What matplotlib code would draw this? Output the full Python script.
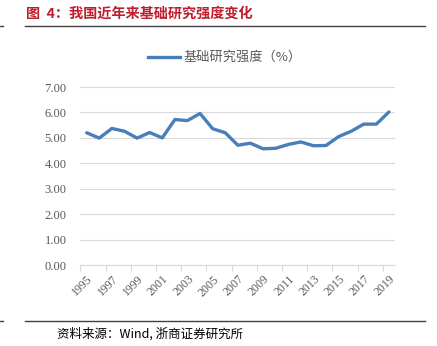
import matplotlib
matplotlib.use("Agg")
import matplotlib.pyplot as plt
from matplotlib.lines import Line2D

years = [str(y) for y in range(1995, 2020)]
values = [5.20, 4.99, 5.37, 5.26, 4.99, 5.21, 5.00, 5.72, 5.68, 5.96,
          5.36, 5.20, 4.71, 4.79, 4.57, 4.59, 4.74, 4.84, 4.69, 4.70,
          5.05, 5.26, 5.54, 5.54, 6.02]
yticks = [0, 1, 2, 3, 4, 5, 6, 7]
ytick_labels = ["0.00", "1.00", "2.00", "3.00", "4.00", "5.00", "6.00", "7.00"]
title = "图  4：我国近年来基础研究强度变化"
series_name = "基础研究强度（%）"
source = "资料来源：Wind, 浙商证券研究所"

cjk = ["Noto Sans CJK SC", "DejaVu Sans"]
serif = ["Liberation Serif", "DejaVu Serif"]

W, H = 437, 346
fig = plt.figure(figsize=(W / 100, H / 100), dpi=100)
ax = fig.add_axes([80.4 / W, 1 - 265 / H, (395.3 - 80.4) / W, (265 - 87) / H])

x = list(range(len(years)))
ax.plot(x, values, color="#4A7EBB", lw=2.4, solid_capstyle="round",
        solid_joinstyle="round", zorder=3)

ax.set_xlim(-0.5, len(years) - 0.5)
ax.set_ylim(0, 7)
ax.set_yticks(yticks)
ax.set_yticklabels(ytick_labels, fontfamily=serif, fontsize=9, color="#595959")
ax.grid(axis="y", color="#D9D9D9", lw=0.8)
ax.set_axisbelow(True)
ax.tick_params(axis="y", length=0, pad=10)

ax.set_xticks(x[::2])
ax.set_xticklabels(years[::2], rotation=45, ha="right", rotation_mode="anchor",
                   fontfamily=serif, fontsize=8.5, color="#595959")
ax.set_xticks([i - 0.5 for i in range(0, len(years) + 1, 2)], minor=True)
ax.tick_params(axis="x", which="major", length=0, pad=6)
ax.tick_params(axis="x", which="minor", length=4, color="#D9D9D9", width=0.8)

for s in ["top", "right", "left"]:
    ax.spines[s].set_visible(False)
ax.spines["bottom"].set_color("#D9D9D9")
ax.spines["bottom"].set_linewidth(0.8)

# legend
fig.lines.append(Line2D([148 / W, 180 / W], [1 - 57 / H, 1 - 57 / H],
                        color="#4A7EBB", lw=2.4, transform=fig.transFigure))
fig.text(184 / W, 1 - 57 / H, series_name, fontfamily=cjk, fontsize=9.5,
         color="#595959", va="center", ha="left")

# title and rules
fig.text(26 / W, 1 - 13.5 / H, title, fontfamily=cjk, fontsize=10.2,
         fontweight="bold", color="#BF1E2E", va="center", ha="left")
for yy in [25.7, 320.7]:
    fig.lines.append(Line2D([25 / W, 425 / W], [1 - yy / H, 1 - yy / H],
                            color="#404040", lw=1.0, transform=fig.transFigure))
    fig.lines.append(Line2D([0, 3 / W], [1 - yy / H, 1 - yy / H],
                            color="#404040", lw=1.0, transform=fig.transFigure))

fig.text(57 / W, 1 - 334 / H, source, fontfamily=cjk, fontsize=9,
         color="#000000", va="center", ha="left")

fig.savefig("out.png", dpi=100)
